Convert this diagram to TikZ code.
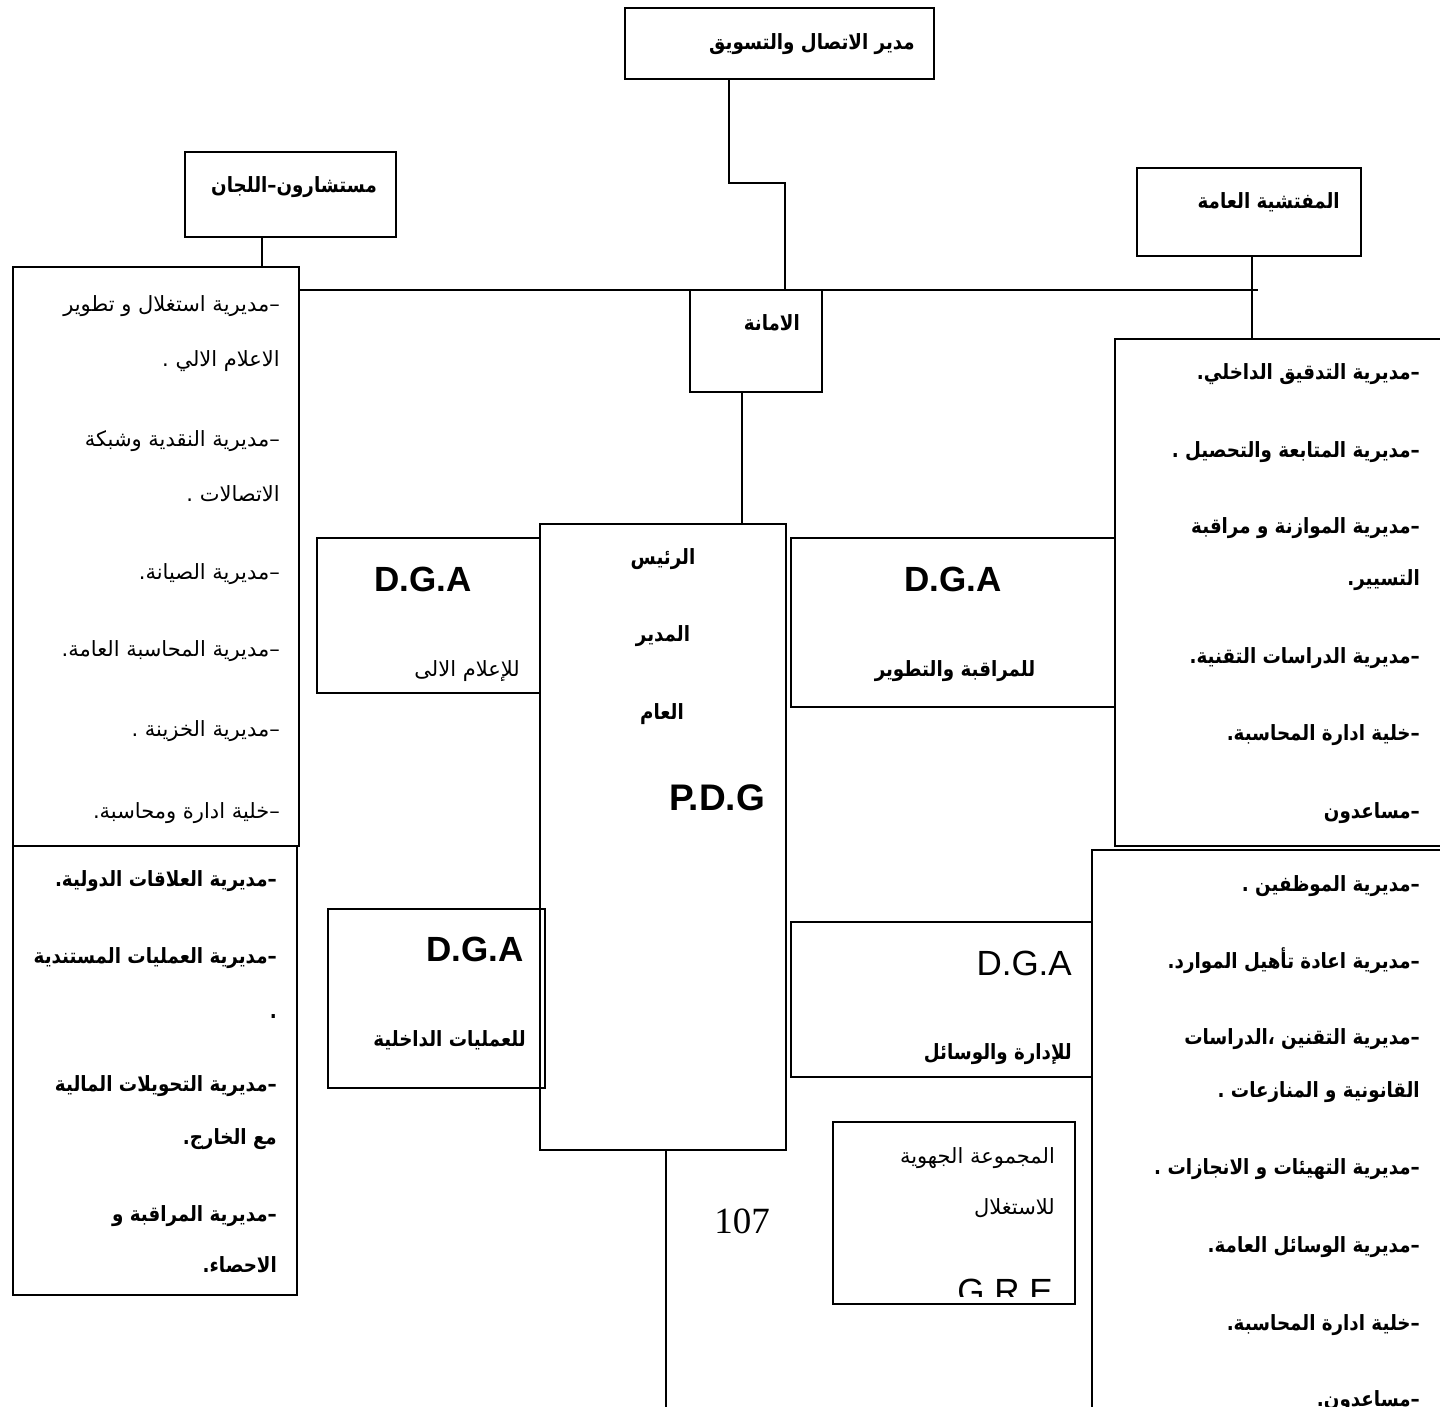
\documentclass[tikz,border=0pt]{standalone}
\usepackage{fontspec}
\setmainfont{Liberation Sans}
\newfontfamily\arab[Script=Arabic, BoldFeatures={FakeStretch=0.87}]{DejaVu Sans}
\newfontfamily\numserif{Liberation Serif}
\TeXXeTstate=1

\newcounter{ln}
% one text line, base anchored at (x,y); the text brings its own \beginR ... \endR
\newcommand{\arline}[4][ar]{\stepcounter{ln}\node[#1] (line\theln) at (#2,#3) {#4};}

\tikzset{
  x=1pt, y=-1pt,
  box/.style={draw, line width=1.6pt, inner sep=0pt, anchor=north west},
  link/.style={line width=1.6pt},
  ar/.style={font=\arab\fontsize{21}{25}\selectfont, inner sep=0pt, anchor=base east},
  arb/.style={font=\arab\bfseries\fontsize{21}{25}\selectfont, inner sep=0pt, anchor=base east},
  arc/.style={arb, anchor=base},
  latb/.style={font=\bfseries\fontsize{35}{40}\selectfont, inner sep=0pt, anchor=base},
  latr/.style={font=\fontsize{35}{40}\selectfont, inner sep=0pt, anchor=base},
}

\begin{document}
\begin{tikzpicture}
\useasboundingbox (0,0) rectangle (1440,1407);
\clip (0,0) rectangle (1440,1407);

% ---------- boxes ----------
\node[box, minimum width=309pt, minimum height=71pt]  (mkt)   at (624,7)   {};
\node[box, minimum width=211pt, minimum height=85pt]  (cons)  at (184,151) {};
\node[box, minimum width=224pt, minimum height=88pt]  (insp)  at (1136,167){};
\node[box, minimum width=286pt, minimum height=579pt] (ltop)  at (12,266)  {};
\node[box, minimum width=284pt, minimum height=449pt] (lbot)  at (12,845)  {};
\node[box, minimum width=132pt, minimum height=102pt] (amana) at (689,289) {};
\node[box, minimum width=326pt, minimum height=507pt] (rtop)  at (1114,338){};
\node[box, minimum width=349pt, minimum height=570pt] (rbot)  at (1091,849){};
\node[box, minimum width=246pt, minimum height=626pt] (pdg)   at (539,523) {};
\node[box, minimum width=223pt, minimum height=155pt] (dgaA)  at (316,537) {};
\node[box, minimum width=324pt, minimum height=169pt] (dgaB)  at (790,537) {};
\node[box, minimum width=217pt, minimum height=179pt] (dgaC)  at (327,908) {};
\node[box, minimum width=301pt, minimum height=155pt] (dgaD)  at (790,921) {};
\node[box, minimum width=242pt, minimum height=182pt] (gre)   at (832,1121){};

% ---------- connectors ----------
\coordinate (m1) at (729,183);
\coordinate (m2) at (785,183);
\draw[link] (mkt.south -| m1) -- (m1) -- (m2) -- (amana.north -| m2);
\coordinate (hz) at (0,290);
\draw[link] (ltop.east |- hz) -- (amana.west |- hz);
\coordinate (hzend) at (1258,290);
\draw[link] (amana.east |- hz) -- (hzend);
\coordinate (vi) at (1252,0);
\draw[link] (insp.south -| vi) -- (rtop.north -| vi);
\coordinate (vc) at (262,0);
\draw[link] (cons.south -| vc) -- (ltop.north -| vc);
\coordinate (va) at (742,0);
\draw[link] (amana.south -| va) -- (pdg.north -| va);
\coordinate (vp) at (666,1407);
\draw[link] (pdg.south -| vp) -- (vp);

% ---------- titles ----------
\arline[arb]{915}{50}{\beginR مدير الاتصال والتسويق\endR}
\arline[arb]{377}{193}{\beginR مستشارون–اللجان\endR}
\arline[arb]{1340}{208}{\beginR المفتشية العامة\endR}
\arline[arb]{800}{330}{\beginR الامانة\endR}

% ---------- left upper box ----------
\arline{280}{311}{\beginR –مديرية استغلال و تطوير\endR}
\arline{280}{366}{\beginR الاعلام الالي .\endR}
\arline{280}{446}{\beginR –مديرية النقدية وشبكة\endR}
\arline{280}{501}{\beginR الاتصالات .\endR}
\arline{280}{579}{\beginR –مديرية الصيانة.\endR}
\arline{280}{656}{\beginR –مديرية المحاسبة العامة.\endR}
\arline{280}{736}{\beginR –مديرية الخزينة .\endR}
\arline{280}{818}{\beginR –خلية ادارة ومحاسبة.\endR}

% ---------- left lower box ----------
\arline[arb]{277}{886}{\beginR –مديرية العلاقات الدولية.\endR}
\arline[arb]{277}{963}{\beginR –مديرية العمليات المستندية\endR}
\arline[arb]{277}{1018}{.}
\arline[arb]{277}{1091}{\beginR –مديرية التحويلات المالية\endR}
\arline[arb]{277}{1144}{\beginR مع الخارج.\endR}
\arline[arb]{277}{1221}{\beginR –مديرية المراقبة و\endR}
\arline[arb]{277}{1272}{\beginR الاحصاء.\endR}

% ---------- right upper box ----------
\arline[arb]{1420}{379}{\beginR –مديرية التدقيق الداخلي.\endR}
\arline[arb]{1420}{457}{\beginR –مديرية المتابعة والتحصيل .\endR}
\arline[arb]{1420}{533}{\beginR –مديرية الموازنة و مراقبة\endR}
\arline[arb]{1420}{585}{\beginR التسيير.\endR}
\arline[arb]{1420}{663}{\beginR –مديرية الدراسات التقنية.\endR}
\arline[arb]{1420}{740}{\beginR –خلية ادارة المحاسبة.\endR}
\arline[arb]{1420}{818}{\beginR –مساعدون\endR}

% ---------- right lower box ----------
\arline[arb]{1420}{891}{\beginR –مديرية الموظفين .\endR}
\arline[arb]{1420}{968}{\beginR –مديرية اعادة تأهيل الموارد.\endR}
\arline[arb]{1420}{1044}{\beginR –مديرية التقنين ،الدراسات\endR}
\arline[arb]{1420}{1097}{\beginR القانونية و المنازعات .\endR}
\arline[arb]{1420}{1174}{\beginR –مديرية التهيئات و الانجازات .\endR}
\arline[arb]{1420}{1252}{\beginR –مديرية الوسائل العامة.\endR}
\arline[arb]{1420}{1330}{\beginR –خلية ادارة المحاسبة.\endR}
\arline[arb]{1420}{1406}{\beginR –مساعدون.\endR}

% ---------- president box ----------
\arline[arc]{663}{564}{\beginR الرئيس\endR}
\arline[arc]{663}{641}{\beginR المدير\endR}
\arline[arc]{662}{719}{\beginR العام\endR}
\node[latb, font=\bfseries\fontsize{37}{42}\selectfont] (pdgtxt) at (717,810) {P.D.G};

% ---------- D.G.A boxes ----------
\node[latb] (dgaAt) at (423,591) {D.G.A};
\arline{520}{676}{\beginR للإعلام الالى\endR}
\node[latb] (dgaBt) at (953,591) {D.G.A};
\arline[arc]{955}{676}{\beginR للمراقبة والتطوير\endR}
\node[latb, anchor=base east] (dgaCt) at (524,961) {D.G.A};
\arline[arb]{526}{1046}{\beginR للعمليات الداخلية\endR}
\node[latr, anchor=base east] (dgaDt) at (1072,975) {D.G.A};
\arline[arb]{1072}{1059}{\beginR للإدارة والوسائل\endR}

% ---------- regional group box ----------
\arline{1055}{1163}{\beginR المجموعة الجهوية\endR}
\arline{1055}{1214}{\beginR للاستغلال\endR}
\begin{scope}
  \clip (gre.north west) rectangle ([yshift=8pt]gre.south east);
  \node[latr] (gret) at (1005,1303) {G R E};
\end{scope}

% ---------- page number ----------
\node[font=\numserif\fontsize{37}{40}\selectfont, inner sep=0pt, anchor=base] (pnum) at (742,1233) {107};
\end{tikzpicture}
\end{document}
